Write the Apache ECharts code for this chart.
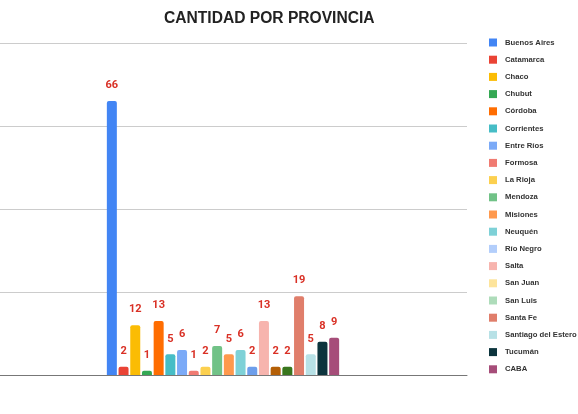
<!DOCTYPE html>
<html>
<head>
<meta charset="utf-8">
<script src="https://cdn.jsdelivr.net/npm/echarts@6/dist/echarts.min.js"></script>
<style>
  html, body { margin: 0; padding: 0; background: #fff; }
  #chart { width: 578px; height: 414px; }
</style>
</head>
<body>
<div id="chart"></div>
<script>
var provinces = [
  "Buenos Aires", "Catamarca", "Chaco", "Chubut", "Córdoba", "Corrientes",
  "Entre Ríos", "Formosa", "La Rioja", "Mendoza", "Misiones", "Neuquén",
  "Río Negro", "Salta", "San Juan", "San Luis", "Santa Fe",
  "Santiago del Estero", "Tucumán", "CABA"
];
var cantidad = [66, 2, 12, 1, 13, 5, 6, 1, 2, 7, 5, 6, 2, 13, 2, 2, 19, 5, 8, 9];
var barColors = [
  "#4285F4", "#EA4335", "#FBBC04", "#34A853", "#FF6D01", "#46BDC6",
  "#7BAAF7", "#F07B72", "#FCD04F", "#71C287", "#FF994D", "#7ED1D7",
  "#6D9EEB", "#F7B4AE", "#B45F06", "#38761D", "#E07E6B",
  "#B7E1E6", "#0C343D", "#A64D79"
];
var legendColors = [
  "#4285F4", "#EA4335", "#FBBC04", "#34A853", "#FF6D01", "#46BDC6",
  "#7BAAF7", "#F07B72", "#FCD04F", "#71C287", "#FF994D", "#7ED1D7",
  "#B3CEFB", "#F7B4AE", "#FDE49B", "#AEDCBA", "#E07E6B",
  "#B7E1E6", "#0C343D", "#A64D79"
];

(function provinceChart() {
  var dom = document.getElementById("chart");
  var myChart = echarts.init(dom, null, { renderer: "canvas" });

  var series = provinces.map(function (name, i) {
    return {
      name: name,
      type: "bar",
      barWidth: 10,
      barGap: "17%",
      itemStyle: { color: barColors[i], borderRadius: [2, 2, 0, 0] },
      label: {
        show: true,
        position: "top",
        distance: 10,
        color: "#D93025",
        fontSize: 11,
        fontWeight: "bold",
        fontFamily: "Roboto"
      },
      data: [cantidad[i]]
    };
  });

  var option = {
    animation: false,
    title: {
      text: "CANTIDAD POR PROVINCIA",
      left: 159,
      top: 6,
      textStyle: {
        fontFamily: "Liberation Sans",
        fontSize: 15.6,
        fontWeight: "bold",
        color: "#222"
      }
    },
    legend: {
      orient: "vertical",
      left: 489,
      top: 38.5,
      padding: 0,
      itemWidth: 8,
      itemHeight: 8,
      itemGap: 9.2,
      icon: "rect",
      selectedMode: false,
      textStyle: {
        fontFamily: "Liberation Sans",
        fontSize: 7.7,
        fontWeight: "bold",
        color: "#333",
        lineHeight: 8,
        padding: [0, 0, 0, 3]
      },
      data: provinces.map(function (name, i) {
        return { name: name, itemStyle: { color: legendColors[i] } };
      })
    },
    grid: {
      left: -21,
      right: 111,
      top: 43,
      bottom: 39,
      outerBoundsMode: "none"
    },
    xAxis: {
      type: "category",
      data: [""],
      axisLine: { lineStyle: { color: "#777", width: 1 } },
      axisTick: { show: false },
      axisLabel: { show: false }
    },
    yAxis: {
      type: "value",
      min: 0,
      max: 80,
      interval: 20,
      axisLabel: { show: false },
      axisLine: { show: false },
      axisTick: { show: false },
      splitLine: { lineStyle: { color: "#ccc" } }
    },
    series: series
  };

  myChart.setOption(option);
  window.addEventListener("resize", myChart.resize);
})();
</script>
</body>
</html>
